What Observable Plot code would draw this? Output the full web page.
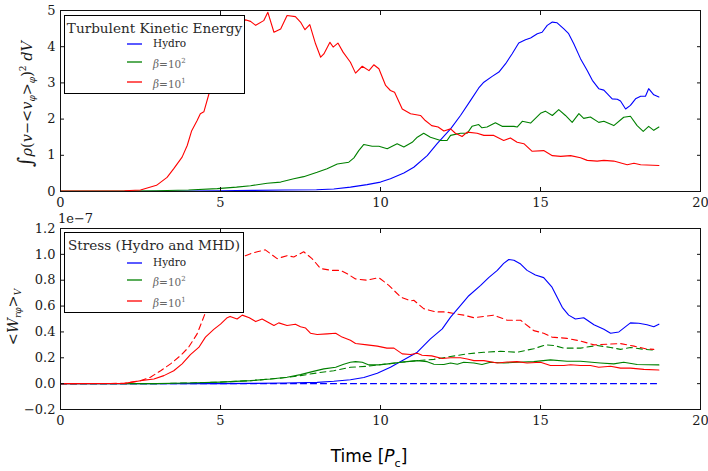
<!DOCTYPE html>
<html><head><meta charset="utf-8">
<script src="https://cdn.jsdelivr.net/npm/d3@7"></script>
<script src="https://cdn.jsdelivr.net/npm/@observablehq/plot@0.6"></script>
<style>
body{margin:0;background:#fff;}
#root{position:relative;width:708px;height:471px;overflow:hidden;background:#fff;font-family:"DejaVu Serif","Liberation Serif",serif;}
#root svg.plot{position:absolute;left:0;}
.legend{position:absolute;background:#fff;border:1px solid #000;box-sizing:border-box;}
.ltitle{position:absolute;left:0;right:0;text-align:center;font-size:13.6px;line-height:16px;color:#2a2a2a;font-weight:normal;white-space:nowrap;}
.lrow{position:absolute;height:0;}
.lrow svg{position:absolute;left:0;top:-2px;}
.lrow .tx{position:absolute;left:26px;top:-7px;font-size:10.5px;white-space:nowrap;color:#222;line-height:13px;}
.lrow .tx.m{font-style:italic;color:#666;}
</style></head>
<body><div id="root"></div>
<script>
// ---- Data (time in P_c) ----
const xTicks = [0, 5, 10, 15, 20];
const keTicks = [0, 1, 2, 3, 4, 5];
const stTicks = [-0.2, 0, 0.2, 0.4, 0.6, 0.8, 1.0, 1.2];
const seriesNames = ["Hydro", "β=10²", "β=10¹"];

// Turbulent kinetic energy
const keHydro = [[0,0],[2,0],[4,0.01],[5,0.02],[6,0.03],[7,0.04],[8,0.05],[8.54,0.07],[9.06,0.12],[9.58,0.19],[10,0.26],[10.31,0.35],[10.73,0.51],[11.04,0.67],[11.46,0.99],[11.77,1.32],[12.19,1.73],[12.5,2.10],[12.81,2.51],[13.07,2.86],[13.23,3.02],[13.49,3.18],[13.7,3.30],[13.91,3.53],[14.11,3.80],[14.32,4.10],[14.53,4.19],[14.69,4.24],[14.9,4.36],[15.05,4.40],[15.21,4.59],[15.37,4.68],[15.52,4.66],[15.73,4.49],[15.88,4.36],[16.04,4.08],[16.25,3.67],[16.46,3.34],[16.62,3.07],[16.82,2.84],[16.98,2.80],[17.24,2.56],[17.4,2.55],[17.5,2.50],[17.66,2.28],[17.81,2.38],[17.97,2.56],[18.13,2.63],[18.28,2.63],[18.38,2.84],[18.54,2.67],[18.7,2.61]];
const keBeta100 = [[0,0.01],[2,0.01],[3,0.02],[4,0.04],[4.9,0.08],[5.5,0.12],[5.94,0.16],[6.46,0.23],[6.88,0.26],[7.29,0.35],[7.6,0.41],[8.02,0.53],[8.33,0.63],[8.65,0.76],[9.01,0.81],[9.17,0.93],[9.32,1.13],[9.48,1.30],[9.74,1.25],[9.95,1.25],[10.21,1.18],[10.52,1.32],[10.73,1.23],[10.99,1.36],[11.15,1.50],[11.35,1.61],[11.56,1.50],[11.88,1.41],[12.08,1.41],[12.19,1.55],[12.5,1.61],[12.71,1.61],[12.86,1.80],[13.07,1.85],[13.17,1.76],[13.33,1.78],[13.59,1.90],[13.8,1.80],[14.17,1.80],[14.27,1.78],[14.43,1.94],[14.69,1.89],[15.0,2.16],[15.15,2.22],[15.37,2.10],[15.57,2.26],[15.78,2.10],[15.99,1.91],[16.2,2.15],[16.35,2.02],[16.56,2.06],[16.82,1.91],[16.98,1.94],[17.29,1.82],[17.6,2.05],[17.81,2.08],[18.02,1.82],[18.21,1.66],[18.38,1.80],[18.54,1.69],[18.7,1.78]];
const keBeta10 = [[0,0.01],[1,0.01],[2,0.02],[2.5,0.04],[3.0,0.17],[3.33,0.39],[3.54,0.63],[3.8,0.95],[3.96,1.27],[4.1,1.68],[4.27,1.96],[4.37,2.15],[4.48,2.2],[4.64,2.7],[4.79,3.16],[4.95,3.5],[5.1,3.9],[5.3,4.3],[5.5,4.6],[5.63,4.72],[5.8,4.74],[5.94,4.70],[6.1,4.59],[6.35,4.72],[6.48,4.95],[6.67,4.40],[6.88,4.49],[7.08,4.86],[7.34,4.83],[7.5,4.68],[7.64,4.47],[7.79,4.61],[7.97,4.08],[8.13,3.71],[8.23,3.80],[8.42,4.12],[8.52,3.99],[8.67,4.10],[8.83,3.85],[9.06,3.57],[9.22,3.27],[9.43,3.46],[9.64,3.34],[9.79,3.50],[9.95,3.39],[10.16,2.93],[10.31,2.79],[10.44,2.74],[10.68,2.28],[10.94,2.15],[11.25,2.10],[11.4,1.96],[11.6,1.82],[11.8,1.78],[11.98,1.67],[12.19,1.73],[12.34,1.61],[12.55,1.52],[12.71,1.64],[13.02,1.61],[13.23,1.55],[13.54,1.55],[13.85,1.41],[14.06,1.48],[14.27,1.36],[14.48,1.32],[14.74,1.11],[15.1,1.13],[15.37,0.99],[15.63,0.97],[15.94,0.99],[16.25,0.93],[16.46,0.86],[16.77,0.84],[16.98,0.86],[17.29,0.84],[17.71,0.74],[17.92,0.78],[18.13,0.74],[18.7,0.72]];

// Stress <W_rphi>_V, units of 1e-7 (solid and dashed components)
const stHydro = [[0,0],[5,0],[6,0.002],[7,0.005],[8.02,0.01],[8.54,0.018],[9.06,0.03],[9.48,0.048],[9.9,0.08],[10.31,0.127],[10.73,0.184],[11.15,0.243],[11.56,0.346],[11.93,0.424],[12.19,0.514],[12.45,0.59],[12.76,0.68],[13.13,0.76],[13.38,0.82],[13.65,0.876],[13.85,0.93],[14.01,0.96],[14.17,0.955],[14.38,0.925],[14.58,0.876],[14.84,0.84],[15.1,0.82],[15.36,0.746],[15.68,0.59],[15.88,0.53],[16.09,0.50],[16.35,0.51],[16.67,0.455],[16.98,0.42],[17.19,0.39],[17.45,0.40],[17.81,0.47],[18.07,0.467],[18.33,0.455],[18.54,0.44],[18.7,0.46]];
const stHydroDash = [[0,0],[18.7,0]];
const stBeta100 = [[0,0],[3,0],[4,0.005],[5,0.012],[5.94,0.023],[6.56,0.036],[7.08,0.05],[7.5,0.07],[7.9,0.095],[8.23,0.114],[8.6,0.127],[8.85,0.15],[9.06,0.165],[9.22,0.17],[9.43,0.165],[9.64,0.145],[9.95,0.145],[10.31,0.155],[10.63,0.165],[10.83,0.17],[11.15,0.178],[11.46,0.17],[11.67,0.15],[11.98,0.148],[12.19,0.16],[12.4,0.15],[12.6,0.165],[12.92,0.16],[13.17,0.148],[13.44,0.165],[13.85,0.16],[14.27,0.165],[14.79,0.17],[15.31,0.184],[15.83,0.173],[16.25,0.173],[16.87,0.16],[17.29,0.153],[17.6,0.165],[18.02,0.148],[18.7,0.145]];
const stBeta100Dash = [[0,0],[3,0],[4,0.005],[5,0.012],[5.94,0.023],[6.98,0.045],[7.5,0.062],[8.02,0.083],[8.54,0.10],[9.06,0.127],[9.58,0.134],[10.1,0.15],[10.63,0.165],[11.15,0.178],[11.67,0.188],[12.19,0.21],[12.71,0.23],[13.23,0.243],[13.75,0.25],[14.27,0.243],[14.79,0.27],[15.16,0.30],[15.42,0.295],[15.73,0.275],[16.25,0.275],[16.77,0.295],[17.19,0.28],[17.5,0.265],[17.81,0.28],[18.23,0.265],[18.54,0.26]];
const stBeta10 = [[0,0],[2,0.002],[2.5,0.023],[2.92,0.036],[3.23,0.062],[3.54,0.10],[3.8,0.153],[4.06,0.225],[4.32,0.28],[4.53,0.36],[4.79,0.42],[5.0,0.46],[5.21,0.51],[5.3,0.52],[5.52,0.50],[5.68,0.53],[5.9,0.51],[6.1,0.48],[6.3,0.50],[6.67,0.45],[6.82,0.47],[7.08,0.45],[7.34,0.46],[7.5,0.44],[7.66,0.43],[7.81,0.39],[8.02,0.38],[8.33,0.385],[8.6,0.39],[8.8,0.36],[9.06,0.335],[9.22,0.31],[9.58,0.30],[9.9,0.29],[10.2,0.275],[10.42,0.275],[10.68,0.23],[10.94,0.225],[11.15,0.235],[11.3,0.22],[11.6,0.215],[11.93,0.194],[12.19,0.20],[12.5,0.20],[12.71,0.19],[12.92,0.178],[13.23,0.178],[13.65,0.16],[13.96,0.167],[14.27,0.17],[14.58,0.16],[15.0,0.165],[15.31,0.14],[15.73,0.14],[15.94,0.146],[16.25,0.14],[16.56,0.14],[16.82,0.127],[17.19,0.134],[17.5,0.12],[17.81,0.12],[18.23,0.11],[18.7,0.106]];
const stBeta10Dash = [[0,0],[2,0.002],[2.5,0.023],[2.81,0.05],[3.13,0.10],[3.44,0.153],[3.75,0.217],[4.0,0.28],[4.27,0.385],[4.53,0.55],[4.8,0.70],[5.0,0.80],[5.2,0.88],[5.4,0.94],[5.6,0.98],[5.78,0.99],[5.94,1.005],[6.15,1.02],[6.4,1.035],[6.77,0.967],[7.08,0.99],[7.29,0.98],[7.6,1.02],[7.86,0.967],[8.13,0.89],[8.48,0.876],[8.75,0.876],[8.96,0.85],[9.22,0.81],[9.58,0.80],[9.95,0.82],[10.26,0.76],[10.63,0.67],[10.94,0.64],[11.04,0.645],[11.35,0.58],[11.72,0.555],[12.03,0.555],[12.34,0.54],[12.6,0.53],[12.92,0.51],[13.23,0.52],[13.54,0.53],[13.96,0.49],[14.38,0.49],[14.79,0.41],[15.1,0.39],[15.36,0.36],[15.83,0.35],[16.25,0.33],[16.67,0.30],[17.08,0.305],[17.5,0.31],[17.92,0.29],[18.28,0.27],[18.54,0.265]];

const BLUE = "#0000ff", GREEN = "#008000", RED = "#ff0000";
const SERIF = "'DejaVu Serif','Liberation Serif',serif";
const root = document.getElementById("root");

function panel({top, height, marginTop, yDomain, yTicks, yFormat, lines}) {
  const svg = Plot.plot({
    width: 708, height, marginLeft: 60, marginRight: 8, marginTop, marginBottom: 24,
    className: "plot",
    style: {fontFamily: SERIF, fontSize: "13px", color: "#1a1a1a", background: "transparent", overflow: "visible"},
    x: {domain: [0, 20], label: null},
    y: {domain: yDomain, label: null},
    marks: [
      ...lines.map(s => Plot.line(s.data, {x: d => d[0], y: d => d[1], stroke: s.color, strokeWidth: 1.1, strokeDasharray: s.dash || null})),
      Plot.frame({stroke: "#111", strokeWidth: 1}),
      Plot.axisX({ticks: xTicks, tickSize: 0, tickPadding: 6, tickFormat: d3.format("d"), label: null}),
      Plot.axisX({ticks: xTicks, tickSize: -4, tickFormat: () => "", label: null, stroke: "#111"}),
      Plot.axisX({anchor: "top", ticks: xTicks, tickSize: -4, tickFormat: () => "", label: null, stroke: "#111"}),
      Plot.axisY({ticks: yTicks, tickSize: 0, tickPadding: 5, tickFormat: yFormat, label: null}),
      Plot.axisY({ticks: yTicks, tickSize: -4, tickFormat: () => "", label: null, stroke: "#111"}),
      Plot.axisY({anchor: "right", ticks: yTicks, tickSize: -4, tickFormat: () => "", label: null, stroke: "#111"})
    ]
  });
  svg.style.top = top + "px";
  root.appendChild(svg);
}

panel({top: 0, height: 215, marginTop: 10, yDomain: [0, 5], yTicks: keTicks, yFormat: d3.format("d"),
  lines: [{data: keHydro, color: BLUE}, {data: keBeta100, color: GREEN}, {data: keBeta10, color: RED}]});
panel({top: 215, height: 218, marginTop: 13, yDomain: [-0.2, 1.2], yTicks: stTicks, yFormat: d3.format(".1f"),
  lines: [
    {data: stHydroDash, color: BLUE, dash: "6,4"},
    {data: stBeta100Dash, color: GREEN, dash: "6,4"},
    {data: stBeta10Dash, color: RED, dash: "6,4"},
    {data: stHydro, color: BLUE}, {data: stBeta100, color: GREEN}, {data: stBeta10, color: RED}]});

function legend(left, top, w, h, title, rowsY) {
  const d = document.createElement("div");
  d.className = "legend";
  Object.assign(d.style, {left: left + "px", top: top + "px", width: w + "px", height: h + "px"});
  let html = `<div class="ltitle" style="top:4px">${title}</div>`;
  const colors = [BLUE, GREEN, RED];
  seriesNames.forEach((n, i) => {
    const lab = i === 0 ? `<span class="tx">${n}</span>` :
      `<span class="tx m">β<span style="font-style:normal">=10</span><sup style="font-size:7px;font-style:normal">${i === 1 ? 2 : 1}</sup></span>`;
    html += `<div class="lrow" style="left:62px;top:${rowsY[i]}px"><svg width="16" height="4"><line x1="0" x2="15" y1="2" y2="2" stroke="${colors[i]}" stroke-width="1.3"/></svg>${lab}</div>`;
  });
  d.innerHTML = html;
  root.appendChild(d);
}
legend(64, 15, 181, 79, "Turbulent Kinetic Energy", [28, 46, 66]);
legend(64, 232, 180, 81, "Stress (Hydro and MHD)", [30, 47, 68]);

function addText(html, style) {
  const d = document.createElement("div");
  d.innerHTML = html;
  Object.assign(d.style, {position: "absolute", whiteSpace: "nowrap"}, style);
  root.appendChild(d);
  return d;
}
// exponent
addText("1e−7", {left: "58px", top: "212px", fontSize: "13px", lineHeight: "13px", color: "#1a1a1a"});
// y labels (rotated)
addText(`<span style="font-size:20px;font-style:italic">∫</span><i>ρ</i>(<i>v</i>−&lt;<i>v</i><sub style="font-size:9px"><i>φ</i></sub>&gt;<sub style="font-size:9px"><i>φ</i></sub>)<sup style="font-size:9px">2</sup> <i>dV</i>`,
  {left: "25px", top: "104px", fontSize: "14.5px", color: "#1a1a1a", transform: "translate(-50%,-50%) rotate(-90deg)", fontFamily: SERIF});
addText(`&lt;<i>W</i><sub style="font-size:9px"><i>rφ</i></sub>&gt;<sub style="font-size:9px"><i>V</i></sub>`,
  {left: "14px", top: "317px", fontSize: "14.5px", color: "#1a1a1a", transform: "translate(-50%,-50%) rotate(-90deg)", fontFamily: SERIF});
// x label
addText(`Time [<i>P</i><sub style="font-size:11px">c</sub>]`,
  {left: "369px", top: "458px", fontSize: "17px", color: "#000", transform: "translate(-50%,-50%)", fontFamily: "DejaVu Sans"});
</script></body></html>
